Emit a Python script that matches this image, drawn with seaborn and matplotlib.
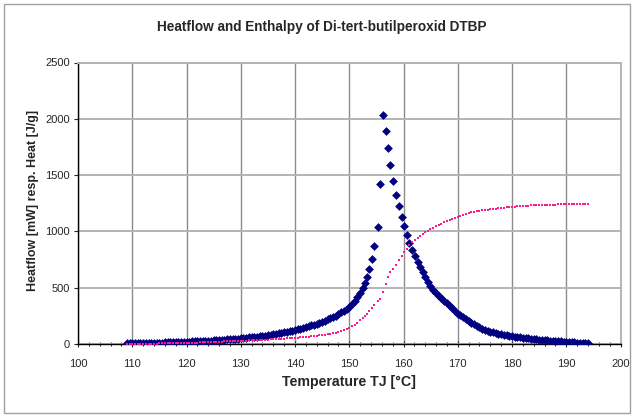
import matplotlib
matplotlib.use("Agg")
import matplotlib.pyplot as plt
import seaborn as sns
from matplotlib.patches import Rectangle
from matplotlib.ticker import MultipleLocator

# Temperature TJ [°C] of every sample
temperature = [
    109.0, 109.5, 110.0, 110.5, 111.0, 111.5, 112.0, 112.5, 113.0, 113.5,
    114.0, 114.5, 115.0, 115.5, 116.0, 116.5, 117.0, 117.5, 118.0, 118.5,
    119.0, 119.5, 120.0, 120.5, 121.0, 121.5, 122.0, 122.5, 123.0, 123.5,
    124.0, 124.5, 125.0, 125.5, 126.0, 126.5, 127.0, 127.5, 128.0, 128.5,
    129.0, 129.5, 130.0, 130.5, 131.0, 131.5, 132.0, 132.5, 133.0, 133.5,
    134.0, 134.5, 135.0, 135.5, 136.0, 136.5, 137.0, 137.5, 138.0, 138.5,
    139.0, 139.5, 140.0, 140.5, 141.0, 141.5, 142.0, 142.5, 143.0, 143.5,
    144.0, 144.5, 145.0, 145.5, 146.0, 146.5, 147.0, 147.5, 148.0, 148.5,
    149.0, 149.5, 150.0, 150.5, 151.0, 151.5, 152.0,
    152.5, 152.9, 153.25, 153.7, 154.15, 154.65, 155.3, 155.6, 156.3, 156.8,
    157.2, 157.6, 158.15, 158.65, 159.2, 159.7, 160.15, 160.65, 161.1, 161.65,
    162.15, 162.65, 163.1, 163.6, 164.0, 164.5, 164.9,
    165.5, 166.0, 166.5, 167.0, 167.5, 168.0, 168.5, 169.0, 169.5, 170.0,
    170.5, 171.0, 171.5, 172.0, 172.5, 173.0, 173.5, 174.0, 174.5, 175.0,
    175.5, 176.0, 176.5, 177.0, 177.5, 178.0, 178.5, 179.0, 179.5, 180.0,
    180.5, 181.0, 181.5, 182.0, 182.5, 183.0, 183.5, 184.0, 184.5, 185.0,
    185.5, 186.0, 186.5, 187.0, 187.5, 188.0, 188.5, 189.0, 189.5, 190.0,
    190.5, 191.0, 191.5, 192.0, 192.5, 193.0, 193.5, 194.0,
]

# Heatflow [mW]
heatflow = [
    7, 7, 8, 8, 9, 9, 10, 10, 11, 11,
    12, 12, 13, 13, 14, 15, 15, 16, 17, 18,
    19, 20, 21, 22, 23, 24, 25, 26, 27, 28,
    29, 30, 32, 33, 35, 36, 38, 40, 42, 44,
    46, 48, 50, 53, 55, 58, 60, 63, 66, 69,
    72, 75, 79, 82, 86, 90, 95, 99, 104, 109,
    114, 119, 125, 131, 137, 143, 150, 157, 165, 172,
    181, 190, 199, 208, 218, 228, 240, 253, 266, 280,
    296, 313, 331, 355, 382, 415, 455,
    497, 544, 598, 669, 758, 873, 1042, 1418, 2031, 1892,
    1741, 1590, 1445, 1323, 1223, 1131, 1048, 968, 894, 835,
    784, 731, 686, 642, 598, 553, 512,
    478, 452, 428, 405, 385, 362, 340, 318, 292, 270,
    254, 238, 222, 204, 190, 176, 163, 150, 136, 124,
    116, 110, 104, 98, 92, 87, 82, 78, 74, 70,
    66, 62, 58, 55, 52, 49, 46, 43, 40, 38,
    36, 34, 32, 30, 28, 26, 24, 23, 21, 20,
    18, 17, 15, 13, 11, 9, 7, 5,
]

# Heat (enthalpy) [J/g]
enthalpy = [
    0, 1, 1, 1, 2, 2, 2, 3, 3, 3,
    4, 4, 5, 5, 5, 6, 6, 7, 7, 8,
    8, 9, 10, 10, 11, 12, 13, 14, 15, 16,
    17, 18, 19, 20, 21, 22, 23, 24, 25, 26,
    27, 28, 29, 30, 31, 32, 33, 34, 35, 36,
    37, 38, 39, 41, 42, 43, 45, 46, 48, 49,
    51, 53, 55, 57, 59, 61, 63, 66, 68, 71,
    74, 77, 80, 84, 88, 92, 97, 102, 108, 115,
    123, 133, 145, 158, 173, 190, 210,
    228, 245, 262, 290, 320, 350, 380, 400, 460, 535,
    595, 638, 670, 705, 745, 785, 815, 848, 875, 902,
    925, 945, 963, 980, 993, 1006, 1017,
    1032, 1045, 1058, 1070, 1082, 1093, 1103, 1112, 1121, 1130,
    1140, 1148, 1155, 1162, 1168, 1173, 1178, 1183, 1187, 1190,
    1194, 1197, 1200, 1203, 1206, 1209, 1211, 1214, 1216, 1219,
    1221, 1223, 1225, 1227, 1228, 1230, 1231, 1232, 1233, 1234,
    1235, 1236, 1237, 1237, 1238, 1238, 1239, 1239, 1240, 1240,
    1240, 1241, 1241, 1241, 1241, 1242, 1242, 1242,
]

sns.set_style("white")
plt.rcParams['font.family'] = ['Liberation Sans', 'DejaVu Sans']

W, H = 632, 420
fig = plt.figure(figsize=(W / 100, H / 100), dpi=100)
ax = fig.add_axes([78 / W, 1 - 344 / H, 542.5 / W, 281.5 / H])

sns.scatterplot(x=temperature, y=heatflow, marker='D', s=20, color='#000080',
                linewidth=0, ax=ax, zorder=3)
sns.scatterplot(x=temperature, y=enthalpy, marker='s', s=4, color='#ff1a8c',
                linewidth=0, ax=ax, zorder=4)

ax.set_xlim(100, 200)
ax.set_ylim(0, 2500)
ax.xaxis.set_major_locator(MultipleLocator(10))
ax.xaxis.set_minor_locator(MultipleLocator(2))
ax.yaxis.set_major_locator(MultipleLocator(500))

# Excel-like grid
ax.set_axisbelow(True)
ax.grid(axis='y', color='#b4b4b4', linewidth=1.4)
ax.grid(axis='x', color='#8c8c8c', linewidth=1.0)

for side in ['top', 'right']:
    ax.spines[side].set_color('#b4b4b4')
    ax.spines[side].set_linewidth(1.4)
for side in ['left', 'bottom']:
    ax.spines[side].set_color('black')
    ax.spines[side].set_linewidth(1.0)

ax.tick_params(axis='x', which='major', direction='inout', length=5, width=0.8,
               pad=8, labelsize=8, bottom=True, top=False)
ax.tick_params(axis='x', which='minor', direction='inout', length=3, width=0.8,
               bottom=True, top=False)
ax.tick_params(axis='y', which='major', direction='out', length=3, width=0.8,
               pad=3, labelsize=8, left=True, right=False)

ax.set_xlabel('')
ax.set_ylabel('')

fig.text(322 / W, 1 - 27 / H, 'Heatflow and Enthalpy of Di-tert-butilperoxid DTBP',
         ha='center', va='center', fontsize=9.8, fontweight='bold')
fig.text(349 / W, 1 - 382 / H, 'Temperature TJ [°C]',
         ha='center', va='center', fontsize=10.2, fontweight='bold')
fig.text(33 / W, 1 - 200 / H, 'Heatflow [mW] resp. Heat [J/g]',
         ha='center', va='center', rotation=90, fontsize=9, fontweight='bold')

# chart area border
fig.patches.append(Rectangle((4 / W, 7 / H), 626 / W, 409 / H, transform=fig.transFigure,
                             fill=False, edgecolor='#a0a0a0', linewidth=1.0))

fig.savefig('out.png', dpi=100)
